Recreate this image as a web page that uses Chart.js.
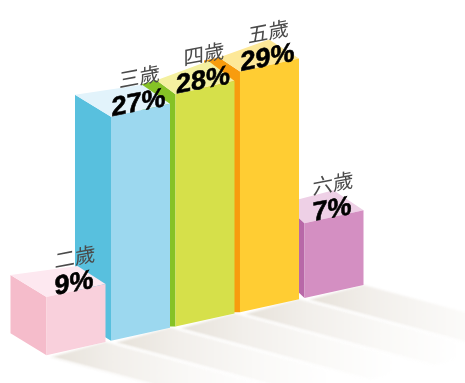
<!DOCTYPE html>
<html>
<head>
  <meta charset="UTF-8">
  <title>歲</title>
  <script src="https://cdn.jsdelivr.net/npm/chart.js@4/dist/chart.umd.min.js"></script>
  <style>
    body { margin: 0; background: #fff; overflow: hidden; }
    canvas { display: block; }
  </style>
</head>
<body>
  <canvas id="myChart" width="465" height="383"></canvas>
  <script>
    const categories = ['二歲', '三歲', '四歲', '五歲', '六歲'];
    const percents = [9, 27, 28, 29, 7];
    // bar heights as drawn in the picture: the first and last bars do not follow their printed numbers
    const heights = [7, 27, 28, 29, 9];

    const frontColors = ['#f9d0dc', '#9cd8ef', '#d6e04a', '#ffcd33', '#d48fc2'];
    const sideColors = ['#f5bccb', '#58c0de', '#85c226', '#f89c0e', '#b868a8'];
    const topColors = ['#fde8f0', '#e2f3fb', '#f4f0a0', '#fde898', '#eed0e6'];

    // how far the back corners of the top face sit from the front corners, in px
    const backLeft = [[-36, -22], [-36, -22], [-19, -14], [-21, -14], [-21, -20]];
    const backRight = [[-28, -18], [-28, -19], [-26, -20], [-30, -19], [-30, -20]];
    const sideExtra = [0, 0, [-34, -10], [-36, -11], 0];

    const slope = -0.2215;   // the whole row climbs to the right
    const x0 = 76;
    const skewY = (x, y) => y + slope * (x - x0);

    function poly(ctx, pts, fill) {
      ctx.beginPath();
      pts.forEach((p, i) => i ? ctx.lineTo(p[0], p[1]) : ctx.moveTo(p[0], p[1]));
      ctx.closePath();
      ctx.fillStyle = fill;
      ctx.fill();
    }

    const box3d = {
      id: 'box3d',
      beforeDatasetsDraw(chart) {
        const ctx = chart.ctx;
        const bars = chart.getDatasetMeta(0).data;

        // floor shadows
        ctx.save();
        ctx.filter = 'blur(1px)';
        bars.forEach(bar => {
          const l = bar.x - bar.width / 2 + 4, r = bar.x + bar.width / 2;
          const a = [l, skewY(l, bar.base) + 3], b = [r, skewY(r, bar.base)];
          const dx = 190, dy = 51;
          const g = ctx.createLinearGradient(a[0], 0, a[0] + 215, 0);
          g.addColorStop(0, '#e6e1d9');
          g.addColorStop(0.3, '#f2efeb');
          g.addColorStop(0.65, '#faf9f7');
          g.addColorStop(1, '#ffffff');
          poly(ctx, [a, b, [b[0] + dx, b[1] + dy], [a[0] + dx, a[1] + dy]], g);
          ctx.beginPath();
          ctx.moveTo(a[0], a[1]);
          ctx.lineTo(a[0] + dx, a[1] + dy);
          ctx.strokeStyle = '#ffffff';
          ctx.lineWidth = 1.5;
          ctx.stroke();
        });
        ctx.restore();

        // side and top faces, right to left so nearer boxes cover the farther ones
        for (let i = bars.length - 1; i >= 0; i--) {
          const bar = bars[i];
          const l = bar.x - bar.width / 2, r = bar.x + bar.width / 2;
          const tl = [l, skewY(l, bar.y)], tr = [r, skewY(r, bar.y)], bl = [l, skewY(l, bar.base)];
          const bk = backLeft[i], br = backRight[i], ex = sideExtra[i];
          const tb = [tl[0] + bk[0], tl[1] + bk[1]];
          const side = ex
            ? [tl, tb, [tl[0] + ex[0], tl[1] + ex[1]], [tl[0] + ex[0], bl[1]], bl]
            : [tl, tb, [tb[0], bl[1] + bk[1]], bl];
          poly(ctx, side, sideColors[i]);
          poly(ctx, [tl, tr, [tr[0] + br[0], tr[1] + br[1]], tb], topColors[i]);
        }

        ctx.save();
        ctx.transform(1, slope, 0, 1, 0, -slope * x0);
      },
      afterDatasetsDraw(chart) {
        const ctx = chart.ctx;
        ctx.restore();
        chart.getDatasetMeta(0).data.forEach((bar, i) => {
          ctx.save();
          ctx.translate(bar.x, skewY(bar.x, bar.y));
          ctx.transform(1, -0.19, 0, 1, 0, 0);
          ctx.textAlign = 'center';
          ctx.textBaseline = 'middle';
          ctx.fillStyle = '#4a4a4a';
          ctx.font = '20.5px "Noto Sans CJK TC"';
          ctx.fillText(categories[i], -1, -34);
          ctx.fillStyle = '#000';
          ctx.strokeStyle = '#000';
          ctx.lineWidth = 0.6;
          ctx.font = 'bold 27px "Liberation Sans"';
          ctx.fillText(percents[i] + '%', -2, -7);
          ctx.strokeText(percents[i] + '%', -2, -7);
          ctx.restore();
        });
      }
    };

    new Chart(document.getElementById('myChart'), {
      type: 'bar',
      data: {
        labels: categories,
        datasets: [{
          data: heights,
          backgroundColor: frontColors,
          borderWidth: 0,
          barPercentage: 0.915,
          categoryPercentage: 1,
          clip: false
        }]
      },
      options: {
        responsive: false,
        animation: false,
        layout: { padding: { left: 43.75, right: 98.75, top: 0, bottom: 34.4 } },
        plugins: { legend: { display: false }, tooltip: { enabled: false } },
        scales: {
          x: { display: false },
          y: { display: false, min: 0, max: 42 }
        }
      },
      plugins: [box3d]
    });
  </script>
</body>
</html>
